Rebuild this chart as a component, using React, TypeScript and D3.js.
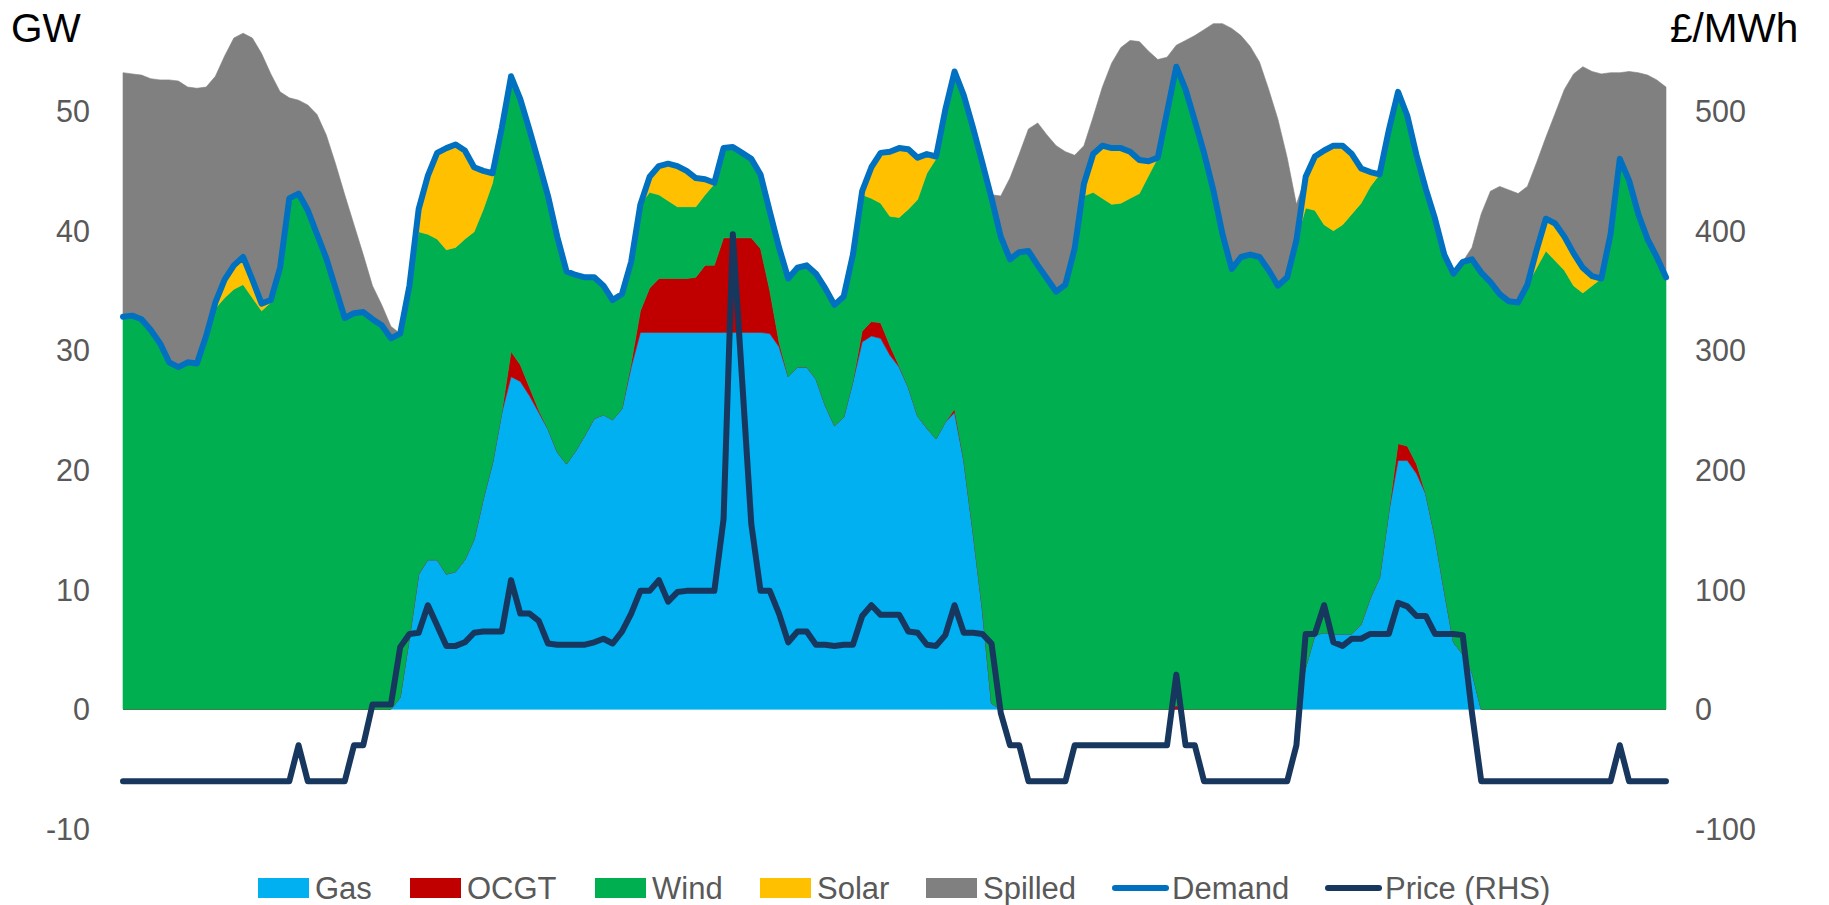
import React from 'react';
import * as d3 from 'd3';

// hourly points over one week
const hours: number[] = d3.range(168);

const gas = [
  0, 0, 0, 0, 0, 0, 0, 0, 0, 0,
  0, 0, 0, 0, 0, 0, 0, 0, 0, 0,
  0, 0, 0, 0, 0, 0, 0, 0, 0, 0,
  1.0, 6.0, 11.3, 12.5, 12.5, 11.3, 11.5, 12.5, 14.2, 17.6,
  20.6, 24.8, 27.8, 27.4, 26.2, 24.8, 23.4, 21.5, 20.5, 21.6,
  22.9, 24.3, 24.6, 24.2, 25.1, 28.6, 31.5, 31.5, 31.5, 31.5,
  31.5, 31.5, 31.5, 31.5, 31.5, 31.5, 31.5, 31.5, 31.5, 31.5,
  31.4, 30.3, 27.8, 28.6, 28.6, 27.6, 25.4, 23.7, 24.4, 27.4,
  30.7, 31.2, 31.0, 29.6, 28.6, 26.9, 24.5, 23.5, 22.6, 24.0,
  24.8, 20.8, 14.8, 8.4, 0.5, 0, 0, 0, 0, 0,
  0, 0, 0, 0, 0, 0, 0, 0, 0, 0,
  0, 0, 0, 0, 0, 0, 0, 0, 0, 0,
  0, 0, 0, 0, 0, 0, 0, 0, 3.5, 6.2,
  6.4, 6.3, 6.3, 6.3, 7.1, 9.3, 11.0, 16.5, 20.8, 20.8,
  19.7, 18.0, 14.4, 9.9, 5.6, 4.6, 3.1, 0, 0, 0,
  0, 0, 0, 0, 0, 0, 0, 0, 0, 0,
  0, 0, 0, 0, 0, 0, 0, 0,
];

const ocgt = [
  0, 0, 0, 0, 0, 0, 0, 0, 0, 0,
  0, 0, 0, 0, 0, 0, 0, 0, 0, 0,
  0, 0, 0, 0, 0, 0, 0, 0, 0, 0,
  0, 0, 0, 0, 0, 0, 0, 0, 0, 0,
  0, 0, 2.1, 1.4, 0.7, 0.2, 0, 0, 0, 0,
  0, 0, 0, 0, 0, 0.3, 1.8, 3.7, 4.5, 4.5,
  4.5, 4.5, 4.6, 5.6, 5.6, 7.9, 7.9, 7.9, 7.9, 7.0,
  3.6, 0.4, 0, 0, 0, 0, 0, 0, 0, 0,
  0.9, 1.2, 1.3, 0.8, 0.1, 0, 0, 0, 0, 0,
  0.3, 0, 0, 0, 0, 0, 0, 0, 0, 0,
  0, 0, 0, 0, 0, 0, 0, 0, 0, 0,
  0, 0, 0, 0, 0.3, 0, 0, 0, 0, 0,
  0, 0, 0, 0, 0, 0, 0, 0, 0, 0,
  0, 0, 0, 0, 0, 0, 0, 0, 1.4, 1.2,
  0.8, 0, 0, 0, 0, 0, 0, 0, 0, 0,
  0, 0, 0, 0, 0, 0, 0, 0, 0, 0,
  0, 0, 0, 0, 0, 0, 0, 0,
];

const wind = [
  32.8, 32.9, 32.6, 31.7, 30.6, 29.0, 28.6, 29.0, 28.9, 31.2,
  33.5, 34.4, 35.1, 35.5, 34.4, 33.3, 34.0, 36.9, 42.7, 43.1,
  41.7, 39.7, 37.7, 35.2, 32.7, 33.1, 33.2, 32.6, 32.1, 31.0,
  30.4, 29.4, 28.6, 27.2, 26.8, 27.1, 27.1, 26.8, 25.7, 24.2,
  23.4, 23.8, 23.0, 22.2, 21.5, 20.7, 19.5, 18.0, 16.1, 14.7,
  13.2, 11.8, 10.8, 10.0, 9.6, 8.5, 8.9, 8.0, 7.0, 6.5,
  6.0, 6.0, 5.9, 5.9, 6.8, 7.5, 7.6, 7.1, 6.6, 6.2,
  6.6, 7.9, 8.2, 8.3, 8.5, 8.8, 9.8, 10.1, 10.1, 10.6,
  11.4, 10.3, 10.0, 10.8, 12.4, 14.9, 18.1, 21.3, 23.4, 26.1,
  28.2, 30.5, 33.8, 37.3, 42.2, 39.5, 37.6, 38.2, 38.3, 37.1,
  36.0, 34.9, 35.5, 38.5, 42.9, 43.2, 42.7, 42.2, 42.3, 42.7,
  43.1, 44.6, 46.1, 49.9, 53.4, 51.8, 49.2, 46.5, 43.4, 39.7,
  36.8, 37.8, 38.0, 37.8, 36.7, 35.4, 36.1, 39.2, 38.4, 35.5,
  34.1, 33.7, 34.2, 35.1, 35.2, 34.4, 33.7, 31.9, 29.4, 27.6,
  25.8, 25.5, 26.6, 28.1, 30.8, 32.8, 34.5, 36.5, 35.7, 34.7,
  34.1, 34.0, 35.5, 36.9, 38.3, 37.5, 36.7, 35.4, 34.8, 35.4,
  36.0, 39.7, 46.0, 44.2, 41.4, 39.3, 37.8, 36.1,
];

const solar = [
  0, 0, 0, 0, 0, 0, 0, 0, 0, 0,
  0.5, 1.5, 2.0, 2.3, 1.5, 0.6, 0.2, 0, 0, 0,
  0, 0, 0, 0, 0, 0, 0, 0, 0, 0,
  0, 0, 1.9, 4.9, 7.2, 8.5, 8.6, 7.4, 5.4, 3.2,
  0.8, 0, 0, 0, 0, 0, 0, 0, 0, 0,
  0, 0, 0, 0, 0, 0, 0, 1.3, 2.4, 3.1,
  3.4, 3.0, 2.4, 1.3, 0.1, 0, 0, 0, 0, 0,
  0, 0, 0, 0, 0, 0, 0, 0, 0, 0,
  0.3, 2.6, 4.2, 5.4, 5.8, 5.0, 3.5, 1.6, 0.2, 0,
  0, 0, 0, 0, 0, 0, 0, 0, 0, 0,
  0, 0, 0, 0, 1.0, 3.2, 4.4, 4.7, 4.6, 3.9,
  2.8, 1.2, 0, 0, 0, 0, 0, 0, 0, 0,
  0, 0, 0, 0, 0, 0, 0, 0, 2.6, 4.5,
  6.2, 7.1, 6.6, 5.0, 2.9, 1.2, 0, 0, 0, 0,
  0, 0, 0, 0, 0, 0, 0, 0, 0, 0,
  0, 0, 0, 1.5, 2.7, 3.1, 2.8, 2.7, 2.1, 0.8,
  0, 0, 0, 0, 0, 0, 0, 0,
];

const spilled = [
  20.4, 20.2, 20.4, 21.0, 22.0, 23.6, 23.9, 23.0, 23.0, 20.8,
  18.9, 18.7, 19.0, 18.7, 20.2, 20.9, 18.9, 14.7, 8.4, 7.8,
  8.8, 10.0, 10.3, 10.4, 10.3, 7.4, 4.8, 2.8, 1.7, 1.0,
  0, 0, 0, 0, 0, 0, 0, 0, 0, 0,
  0, 0, 0, 0, 0, 0, 0, 0, 0, 0,
  0, 0, 0, 0, 0, 0, 0, 0, 0, 0,
  0, 0, 0, 0, 0, 0, 0, 0, 0, 0,
  0, 0, 0, 0, 0, 0, 0, 0, 0, 0,
  0, 0, 0, 0, 0, 0, 0, 0, 0, 0,
  0, 0, 0, 0, 0.3, 3.4, 6.8, 8.2, 10.2, 11.9,
  12.0, 12.2, 11.1, 7.8, 3.2, 3.1, 4.9, 7.1, 8.4, 9.3,
  9.9, 9.2, 8.2, 4.6, 1.8, 4.1, 7.1, 10.3, 13.9, 17.6,
  20.1, 18.5, 17.4, 16.3, 15.1, 13.9, 10.0, 3.0, 0, 0,
  0, 0, 0, 0, 0, 0, 0, 0, 0, 0,
  0, 0, 0, 0, 0, 0, 1.0, 4.9, 7.6, 9.0,
  9.3, 9.1, 8.2, 7.3, 6.8, 9.2, 12.3, 15.0, 16.8, 17.1,
  17.1, 13.5, 7.2, 9.1, 11.8, 13.7, 14.8, 15.9,
];

const demand = [
  32.8, 32.9, 32.6, 31.7, 30.6, 29.0, 28.6, 29.0, 28.9, 31.2,
  34.0, 35.9, 37.1, 37.8, 35.9, 33.9, 34.2, 36.9, 42.7, 43.1,
  41.7, 39.7, 37.7, 35.2, 32.7, 33.1, 33.2, 32.6, 32.1, 31.0,
  31.4, 35.4, 41.8, 44.6, 46.5, 46.9, 47.2, 46.7, 45.3, 45.0,
  44.8, 48.6, 52.9, 51.0, 48.4, 45.7, 42.9, 39.5, 36.6, 36.3,
  36.1, 36.1, 35.4, 34.2, 34.7, 37.4, 42.2, 44.5, 45.4, 45.6,
  45.4, 45.0, 44.4, 44.3, 44.0, 46.9, 47.0, 46.5, 46.0, 44.7,
  41.6, 38.6, 36.0, 36.9, 37.1, 36.4, 35.2, 33.8, 34.5, 38.0,
  43.3, 45.3, 46.5, 46.6, 46.9, 46.8, 46.1, 46.4, 46.2, 50.1,
  53.3, 51.3, 48.6, 45.7, 42.7, 39.5, 37.6, 38.2, 38.3, 37.1,
  36.0, 34.9, 35.5, 38.5, 43.9, 46.4, 47.1, 46.9, 46.9, 46.6,
  45.9, 45.8, 46.1, 49.9, 53.7, 51.8, 49.2, 46.5, 43.4, 39.7,
  36.8, 37.8, 38.0, 37.8, 36.7, 35.4, 36.1, 39.2, 44.5, 46.2,
  46.7, 47.1, 47.1, 46.4, 45.2, 44.9, 44.7, 48.4, 51.6, 49.6,
  46.3, 43.5, 41.0, 38.0, 36.4, 37.4, 37.6, 36.5, 35.7, 34.7,
  34.1, 34.0, 35.5, 38.4, 41.0, 40.6, 39.5, 38.1, 36.9, 36.2,
  36.0, 39.7, 46.0, 44.2, 41.4, 39.3, 37.8, 36.1,
];

const price = [
  -60, -60, -60, -60, -60, -60, -60, -60, -60, -60,
  -60, -60, -60, -60, -60, -60, -60, -60, -60, -30,
  -60, -60, -60, -60, -60, -30, -30, 4, 4, 4,
  52, 63, 64, 87, 70, 53, 53, 56, 64, 65,
  65, 65, 108, 80, 80, 74, 55, 54, 54, 54,
  54, 56, 59, 55, 65, 80, 99, 99, 108, 90,
  98, 99, 99, 99, 99, 159, 397, 276, 155, 99,
  99, 80, 56, 65, 65, 54, 54, 53, 54, 54,
  78, 87, 79, 79, 79, 65, 64, 54, 53, 62,
  87, 64, 64, 63, 55, -3, -30, -30, -60, -60,
  -60, -60, -60, -30, -30, -30, -30, -30, -30, -30,
  -30, -30, -30, -30, 29, -30, -30, -60, -60, -60,
  -60, -60, -60, -60, -60, -60, -60, -30, 63, 63,
  87, 56, 53, 59, 59, 63, 63, 63, 89, 86,
  78, 78, 63, 63, 63, 62, -3, -60, -60, -60,
  -60, -60, -60, -60, -60, -60, -60, -60, -60, -60,
  -60, -60, -30, -60, -60, -60, -60, -60,
];

const leftTicks = [-10, 0, 10, 20, 30, 40, 50];
const rightTicks = [-100, 0, 100, 200, 300, 400, 500];

const stackKeys = ['Gas', 'OCGT', 'Wind', 'Solar', 'Spilled'];
const stackColors: Record<string, string> = {
  Gas: '#00B0F0',
  OCGT: '#C00000',
  Wind: '#00B050',
  Solar: '#FFC000',
  Spilled: '#808080',
};
const demandColor = '#0070C0';
const priceColor = '#17375E';

const legendItems = [
  { label: 'Gas', kind: 'rect', color: '#00B0F0', x: 258 },
  { label: 'OCGT', kind: 'rect', color: '#C00000', x: 410 },
  { label: 'Wind', kind: 'rect', color: '#00B050', x: 595 },
  { label: 'Solar', kind: 'rect', color: '#FFC000', x: 760 },
  { label: 'Spilled', kind: 'rect', color: '#808080', x: 926 },
  { label: 'Demand', kind: 'line', color: '#0070C0', x: 1112 },
  { label: 'Price (RHS)', kind: 'line', color: '#17375E', x: 1325 },
];

export default function App() {
  const W = 1829;
  const H = 905;
  const font = '"Liberation Sans", Arial, sans-serif';

  const x = d3.scaleLinear().domain([0, hours.length - 1]).range([123, 1666]);
  const y = d3.scaleLinear().domain([-10, 50]).range([829, 111]);
  const yR = d3.scaleLinear().domain([-100, 500]).range([829, 111]);

  const table = hours.map((h, i) => ({
    h,
    Gas: gas[i],
    OCGT: ocgt[i],
    Wind: wind[i],
    Solar: solar[i],
    Spilled: spilled[i],
  }));
  const series = d3.stack<any>().keys(stackKeys)(table);

  const area = d3
    .area<any>()
    .x((d: any) => x(d.data.h))
    .y0((d: any) => y(d[0]))
    .y1((d: any) => y(d[1]));

  const demandLine = d3
    .line<number>()
    .x((_d, i) => x(hours[i]))
    .y((d) => y(d));
  const priceLine = d3
    .line<number>()
    .x((_d, i) => x(hours[i]))
    .y((d) => yR(d));

  const legendY = 888;

  return (
    <svg
      width={W}
      height={H}
      style={{ position: 'absolute', left: 0, top: 0, background: '#fff' }}
      fontFamily={font}
    >
      <rect x={0} y={0} width={W} height={H} fill="#fff" />
      {series.map((s) => (
        <path
          key={s.key}
          d={area(s as any) || ''}
          fill={stackColors[s.key]}
          stroke={stackColors[s.key]}
          strokeWidth={0.6}
        />
      ))}
      <path
        d={demandLine(demand) || ''}
        fill="none"
        stroke={demandColor}
        strokeWidth={6}
        strokeLinejoin="round"
        strokeLinecap="round"
      />
      <path
        d={priceLine(price) || ''}
        fill="none"
        stroke={priceColor}
        strokeWidth={6}
        strokeLinejoin="round"
        strokeLinecap="round"
      />

      {leftTicks.map((t) => (
        <text
          key={'l' + t}
          x={90}
          y={y(t)}
          dy="0.36em"
          textAnchor="end"
          fontSize={30.5}
          fill="#595959"
        >
          {t}
        </text>
      ))}
      {rightTicks.map((t) => (
        <text
          key={'r' + t}
          x={1695}
          y={yR(t)}
          dy="0.36em"
          textAnchor="start"
          fontSize={30.5}
          fill="#595959"
        >
          {t}
        </text>
      ))}

      <text x={11} y={42} fontSize={40.5} fill="#000">
        GW
      </text>
      <text x={1670} y={42} fontSize={40.5} fill="#000">
        £/MWh
      </text>

      {legendItems.map((it) => (
        <g key={it.label}>
          {it.kind === 'rect' ? (
            <rect x={it.x} y={legendY - 10} width={51} height={20} fill={it.color} />
          ) : (
            <line
              x1={it.x + 3}
              x2={it.x + 54}
              y1={legendY}
              y2={legendY}
              stroke={it.color}
              strokeWidth={6}
              strokeLinecap="round"
            />
          )}
          <text
            x={it.kind === 'rect' ? it.x + 57 : it.x + 60}
            y={legendY}
            dy="0.36em"
            fontSize={31}
            fill="#595959"
          >
            {it.label}
          </text>
        </g>
      ))}
    </svg>
  );
}
